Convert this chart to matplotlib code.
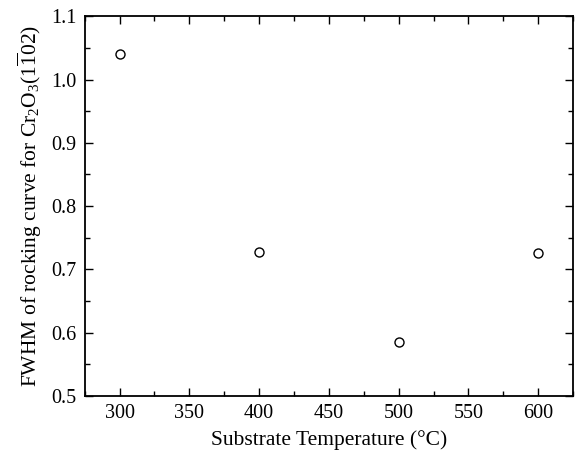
import matplotlib
matplotlib.use("Agg")
import matplotlib.pyplot as plt
from matplotlib.ticker import MultipleLocator, FormatStrFormatter

plt.rcParams['font.family'] = ['Liberation Serif', 'DejaVu Serif']
plt.rcParams['mathtext.fontset'] = 'custom'
plt.rcParams['mathtext.rm'] = 'Liberation Serif'
plt.rcParams['mathtext.it'] = 'Liberation Serif:italic'
plt.rcParams['mathtext.default'] = 'rm'

# Substrate temperature (°C) and rocking-curve FWHM
temperature = [300, 400, 500, 600]
fwhm = [1.040, 0.728, 0.585, 0.726]

fig = plt.figure(figsize=(5.76, 4.54), dpi=100)
ax = fig.add_axes([0.147, 0.1284, 0.848, 0.8353])

ax.plot(temperature, fwhm, linestyle='none', marker='o', markersize=6.5,
        markerfacecolor='white', markeredgecolor='black', markeredgewidth=1.0)

ax.set_xlim(275, 625)
ax.set_ylim(0.5, 1.1)
ax.xaxis.set_major_locator(MultipleLocator(50))
ax.xaxis.set_minor_locator(MultipleLocator(25))
ax.yaxis.set_major_locator(MultipleLocator(0.1))
ax.yaxis.set_minor_locator(MultipleLocator(0.05))
ax.yaxis.set_major_formatter(FormatStrFormatter('%.1f'))

ax.tick_params(which='both', direction='in', top=True, right=True, width=1.0,
               labelsize=14.5)
ax.tick_params(which='major', length=6, pad=6)
ax.tick_params(which='minor', length=3.5)
for s in ax.spines.values():
    s.set_linewidth(1.3)

ax.set_xlabel('Substrate Temperature (°C)', fontsize=15.5, labelpad=5)
ax.set_ylabel(r'FWHM of rocking curve for Cr$_2$O$_3$(1$\overline{1}$02)',
              fontsize=15.5, labelpad=5)

fig.savefig('out.png', dpi=100)
